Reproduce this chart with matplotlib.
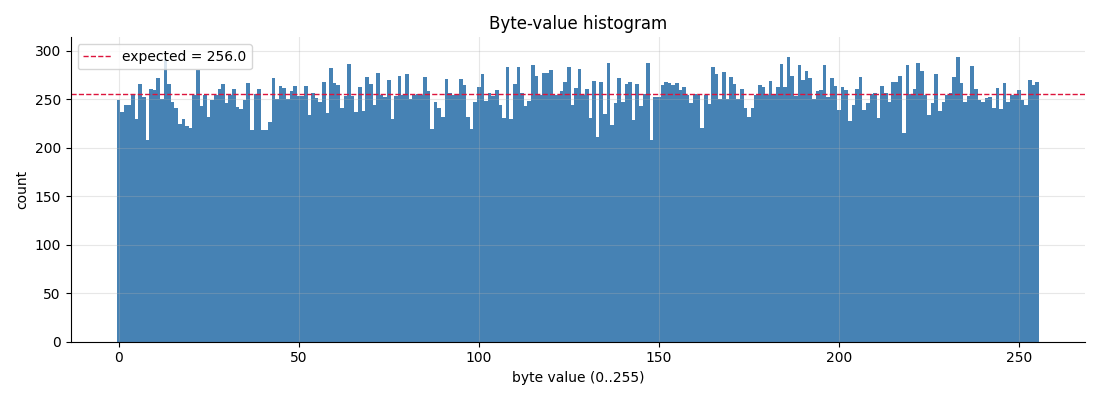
import numpy as np
import matplotlib
matplotlib.use("Agg")
import matplotlib.pyplot as plt

byte_values = list(range(256))
counts = [
    249, 237, 244, 244, 255, 230, 266, 252, 208, 261,   # 0-9
    260, 272, 250, 292, 266, 247, 241, 225, 230, 223,   # 10-19
    220, 255, 280, 243, 255, 232, 249, 254, 261, 266,   # 20-29
    246, 255, 261, 242, 240, 249, 267, 218, 256, 261,   # 30-39
    218, 218, 227, 272, 250, 264, 262, 250, 259, 264,   # 40-49
    253, 253, 264, 234, 257, 251, 247, 268, 236, 282,   # 50-59
    267, 265, 241, 253, 286, 253, 237, 263, 238, 273,   # 60-69
    266, 244, 277, 255, 252, 270, 230, 253, 274, 255,   # 70-79
    276, 250, 255, 256, 255, 273, 259, 219, 247, 241,   # 80-89
    232, 271, 257, 254, 255, 271, 265, 232, 219, 247,   # 90-99
    263, 276, 248, 257, 253, 260, 244, 231, 283, 230,   # 100-109
    266, 283, 257, 243, 248, 285, 274, 255, 277, 277,   # 110-119
    280, 255, 255, 259, 268, 283, 244, 262, 281, 255,   # 120-129
    261, 231, 269, 211, 268, 235, 288, 224, 246, 272,   # 130-139
    247, 266, 268, 229, 266, 243, 256, 288, 208, 252,   # 140-149
    252, 265, 268, 267, 265, 267, 260, 263, 255, 246,   # 150-159
    256, 255, 220, 255, 245, 283, 276, 250, 278, 250,   # 160-169
    273, 266, 250, 261, 241, 232, 241, 255, 265, 263,   # 170-179
    255, 269, 256, 263, 287, 263, 294, 274, 253, 285,   # 180-189
    270, 279, 272, 250, 259, 260, 285, 252, 272, 264,   # 190-199
    239, 263, 260, 228, 244, 261, 273, 239, 246, 256,   # 200-209
    257, 231, 264, 257, 247, 268, 268, 274, 215, 285,   # 210-219
    256, 261, 288, 279, 255, 234, 246, 276, 238, 247,   # 220-229
    254, 257, 273, 294, 267, 247, 253, 284, 261, 249,   # 230-239
    247, 251, 252, 241, 262, 240, 267, 247, 254, 254,   # 240-249
    260, 249, 244, 270, 265, 268,                        # 250-255
]
expected = 256.0

fig, ax = plt.subplots(figsize=(11, 4), dpi=100)
ax.bar(byte_values, counts, width=1.0, color="steelblue")
ax.axhline(expected, color="crimson", linestyle="--", linewidth=1,
           label=f"expected = {expected:.1f}")
ax.set_title("Byte-value histogram")
ax.set_xlabel("byte value (0..255)")
ax.set_ylabel("count")
ax.set_ylim(0, 314)
ax.grid(alpha=0.3)
ax.spines["top"].set_visible(False)
ax.spines["right"].set_visible(False)
ax.legend(loc="upper left")
fig.tight_layout()
fig.savefig("out.png")
